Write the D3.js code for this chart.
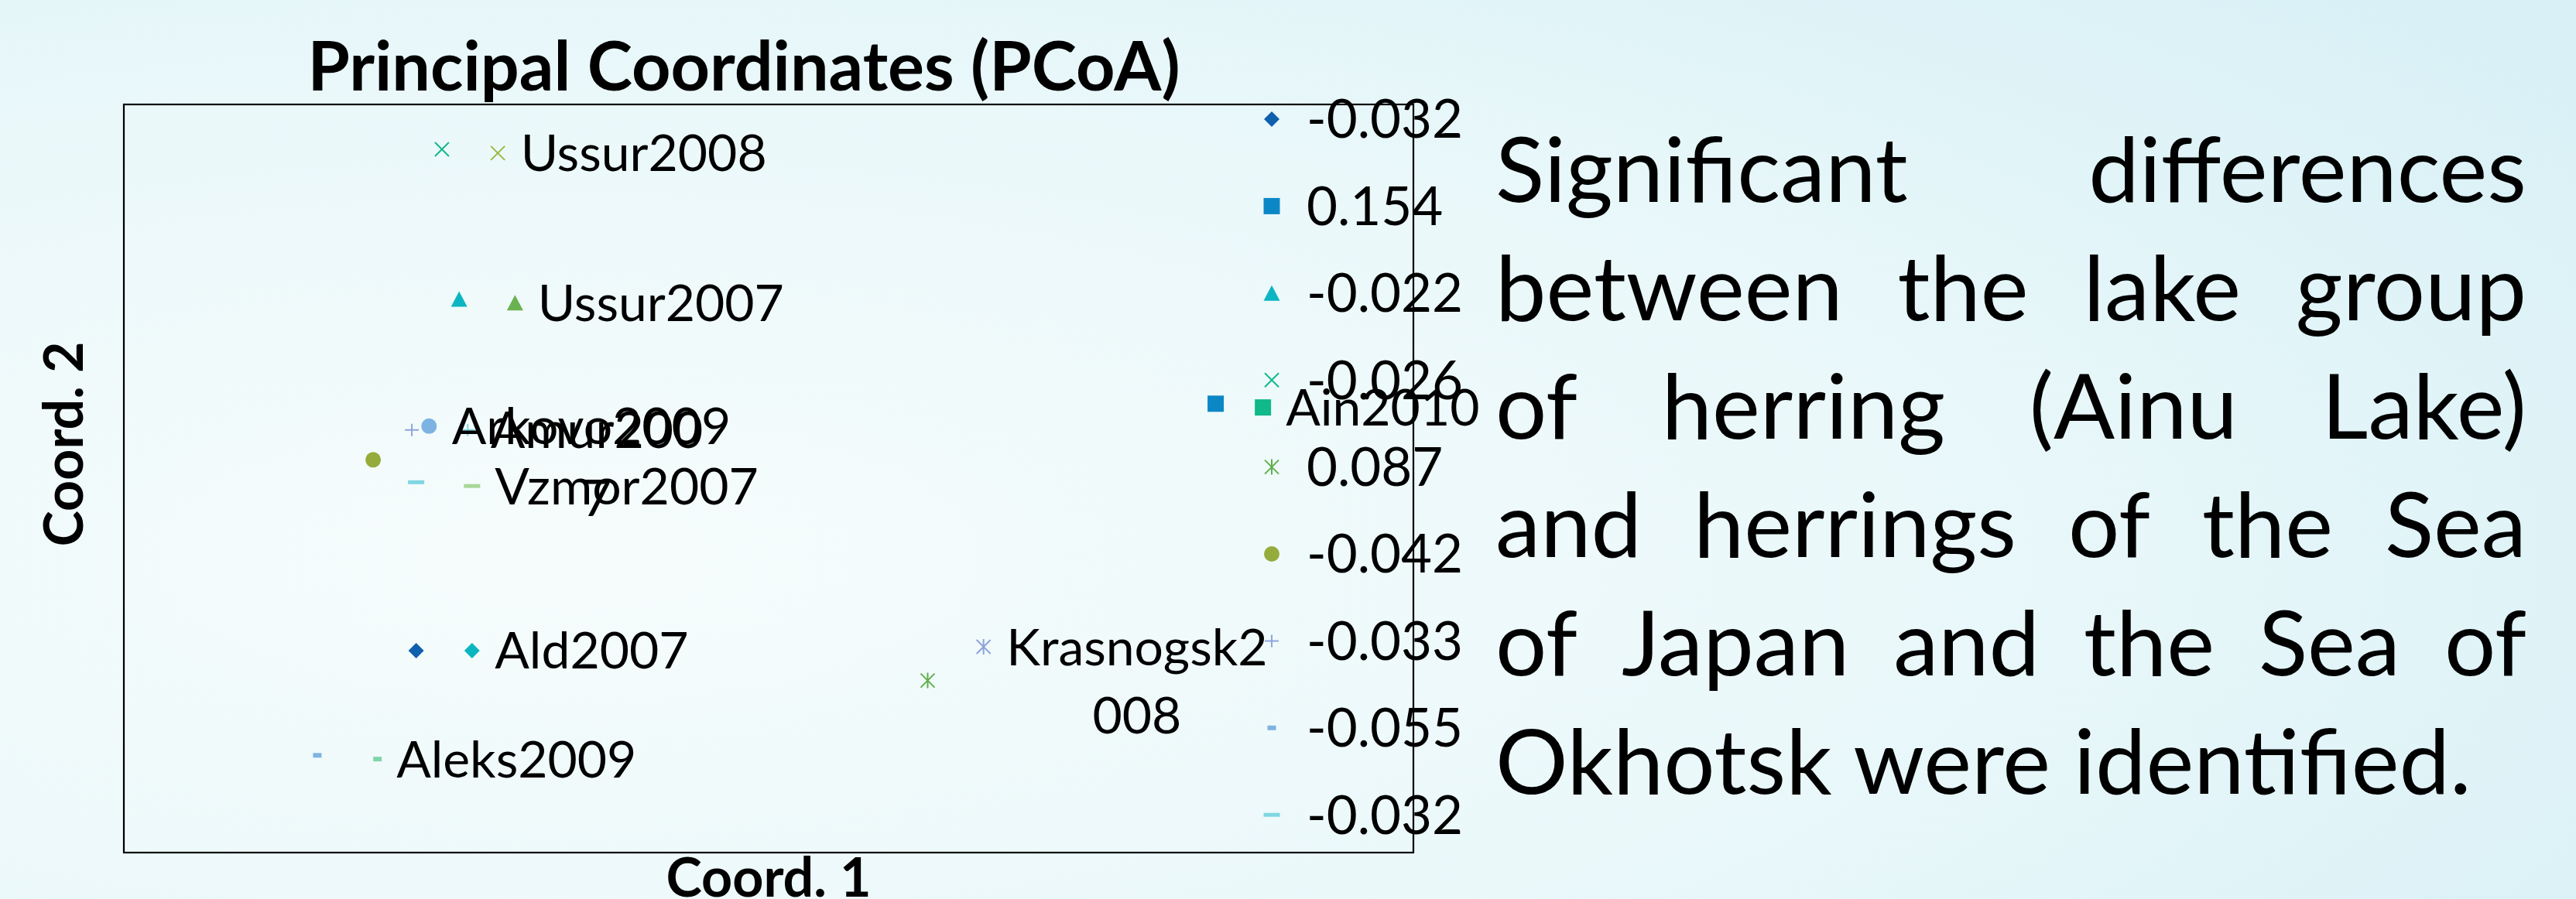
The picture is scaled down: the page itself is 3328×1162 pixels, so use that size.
<!DOCTYPE html>
<html><head><meta charset="utf-8">
<script src="https://cdn.jsdelivr.net/npm/d3@7"></script>
<style>html,body{margin:0;padding:0;overflow:hidden;background:#eef9fa}</style>
</head><body>
<svg id="chart" width="3328" height="1162"></svg>
<script>
// ---- data ----
const samples   = ["Ald2007","Ain2010","Ussur2007","Ussur2008","Krasnogsk2008","Arkovo2009","Amur2007","Aleks2009","Vzmor2007"];
const labelLines = [["Ald2007"],["Ain2010"],["Ussur2007"],["Ussur2008"],["Krasnogsk2","008"],["Arkovo2009"],["Amur200","7"],["Aleks2009"],["Vzmor2007"]];
const legendLabels = ["-0.032","0.154","-0.022","-0.026","0.087","-0.042","-0.033","-0.055","-0.032"];
const coord1    = [-0.032, 0.154, -0.022, -0.026, 0.087, -0.042, -0.033, -0.055, -0.032];
const coord2    = [-0.046, 0.020, 0.048, 0.088, -0.054, 0.005, 0.013, -0.074, -0.001];
const coord1b   = [-0.019, 0.165, -0.009, -0.013, 0.100, -0.029, -0.020, -0.041, -0.019];
const coord2b   = [-0.046, 0.019, 0.047, 0.087, -0.045, 0.014, 0.013, -0.075, -0.002];
const shapes    = ["diamond","square","triangle","x","star","circle","plus","smalldash","dash"];
const colorsA   = ["#0F5FAF","#0C87C6","#0BB5C2","#14B98C","#5FAF4B","#95AC3C","#8FA5DC","#7FB3E0","#7ED7E0"];
const colorsB   = ["#0BB6C0","#10B88A","#6AB150","#9CB740","#8CA3DC","#7DB3E2","#7FD6E0","#80D6A8","#A8D898"];
const title = "Principal Coordinates (PCoA)";
const xTitle = "Coord. 1", yTitle = "Coord. 2";
const paragraph = ["Significant differences","between the lake group","of herring (Ainu Lake)","and herrings of the Sea","of Japan and the Sea of","Okhotsk were identified."];

// ---- layout ----
const W = 3328, H = 1162;
const plot = {x0:160, x1:1826, y0:135, y1:1102};
const FONT = "Lato, 'Open Sans', sans-serif";
const svg = d3.select("#chart");

const defs = svg.append("defs");
const grad = defs.append("radialGradient").attr("id","bg").attr("cx","22%").attr("cy","62%").attr("r","95%");
grad.append("stop").attr("offset","0%").attr("stop-color","#f6fcfc");
grad.append("stop").attr("offset","55%").attr("stop-color","#eaf8fa");
grad.append("stop").attr("offset","100%").attr("stop-color","#d8f0f6");
svg.append("rect").attr("width",W).attr("height",H).attr("fill","url(#bg)");

const x = d3.scaleLinear().domain([-0.1,0.2]).range([plot.x0, plot.x1]);
const y = d3.scaleLinear().domain([-0.1,0.1]).range([plot.y1, plot.y0]);

function markerPath(s){
  switch(s){
    case "diamond": return "M0,-10L10,0L0,10L-10,0Z";
    case "square": return "M-10.5,-10.5h21v21h-21Z";
    case "triangle": return "M0,-10L10.5,10L-10.5,10Z";
    case "x": return "M-9,-9L9,9M-9,9L9,-9";
    case "star": return "M-9,-9L9,9M-9,9L9,-9M0,-10L0,10";
    case "circle": return d3.symbol(d3.symbolCircle, Math.PI*100)();
    case "plus": return "M-9,0L9,0M0,-8L0,8";
    case "smalldash": return "M-5.5,-3h11v6h-11Z";
    case "dash": return "M-10.5,-2.5h21v5h-21Z";
  }
}
const stroked = s => (s==="x"||s==="star"||s==="plus");
const halfW = s => (s==="smalldash"?5.5:10.5);

function drawMarker(g, s, color, px, py){
  g.append("path").attr("d", markerPath(s)).attr("transform",`translate(${px},${py})`)
    .attr("fill", stroked(s)?"none":color)
    .attr("stroke", stroked(s)?color:"none")
    .attr("stroke-width", 2);
}

const gPts = svg.append("g");
samples.forEach((name,i)=>{
  drawMarker(gPts, shapes[i], colorsA[i], x(coord1[i]), y(coord2[i]));
  drawMarker(gPts, shapes[i], colorsB[i], x(coord1b[i]), y(coord2b[i]));
});

// data labels
const LBL = 66;
const gLbl = svg.append("g").attr("font-family",FONT).attr("font-size",LBL).attr("fill","#000");
samples.forEach((name,i)=>{
  const lines = labelLines[i];
  const startX = x(coord1b[i]) + halfW(shapes[i]) + 19;
  const base = y(coord2b[i]) + LBL*0.355;
  const t = lines.map((ln,k)=> gLbl.append("text").attr("y", base + k*88).text(ln));
  const widths = t.map(e=>e.node().getComputedTextLength());
  const maxW = d3.max(widths);
  t.forEach((e,k)=> e.attr("x", startX + maxW/2).attr("text-anchor","middle"));
});

// legend
const LEG = 69;
const gLeg = svg.append("g").attr("font-family",FONT).attr("font-size",LEG);
legendLabels.forEach((lab,i)=>{
  const ly = 154 + i*112.4;
  drawMarker(gLeg, shapes[i], colorsA[i], 1643, ly);
  gLeg.append("text").attr("x",1688).attr("y", ly + LEG*0.355).text(lab);
});

// frame
svg.append("rect").attr("x",plot.x0).attr("y",plot.y0).attr("width",plot.x1-plot.x0).attr("height",plot.y1-plot.y0)
  .attr("fill","none").attr("stroke","#000").attr("stroke-width",2.2);

// titles
svg.append("text").attr("x",961).attr("y",117).attr("text-anchor","middle").attr("font-family",FONT)
  .attr("font-weight","bold").attr("font-size",88).text(title);
svg.append("text").attr("x",(plot.x0+plot.x1)/2).attr("y",1159).attr("text-anchor","middle").attr("font-family",FONT)
  .attr("font-weight","bold").attr("font-size",70).text(xTitle);
svg.append("text").attr("transform","translate(107,574) rotate(-90)").attr("text-anchor","middle").attr("font-family",FONT)
  .attr("font-weight","bold").attr("font-size",70).text(yTitle);

// justified paragraph
const PF = 117, pL = 1932, pR = 3264;
const gP = svg.append("g").attr("font-family",FONT).attr("font-size",PF).attr("fill","#000");
paragraph.forEach((line,li)=>{
  const by = 261 + li*153;
  if(li === paragraph.length-1){
    gP.append("text").attr("x",pL).attr("y",by).text(line);
    return;
  }
  const words = line.split(" ");
  const els = words.map(w=> gP.append("text").attr("y",by).text(w));
  const ws = els.map(e=>e.node().getComputedTextLength());
  const gap = (pR - pL - d3.sum(ws))/(words.length-1);
  let cx = pL;
  els.forEach((e,k)=>{ e.attr("x",cx); cx += ws[k] + gap; });
});
</script>
</body></html>
